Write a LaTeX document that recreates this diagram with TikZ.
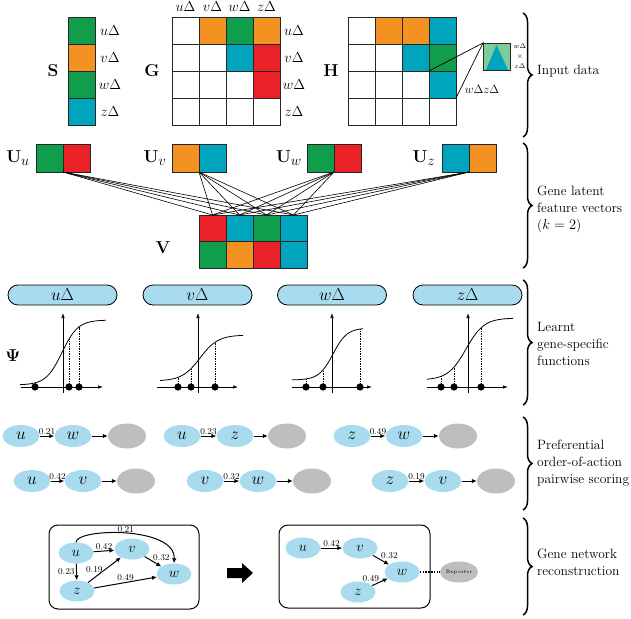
\documentclass[tikz,border=0pt]{standalone}
\usetikzlibrary{shapes.geometric,decorations.pathreplacing,arrows.meta,calc}
\definecolor{mgreen}{RGB}{16,157,76}
\definecolor{morange}{RGB}{243,146,32}
\definecolor{mcyan}{RGB}{0,164,189}
\definecolor{mred}{RGB}{234,33,39}
\definecolor{lblue}{RGB}{168,219,238}
\definecolor{lgray}{RGB}{190,190,190}
\definecolor{lgreen}{RGB}{125,205,155}
\begin{document}
\begin{tikzpicture}[x=1pt,y=-1pt,
  cell/.style={draw=black!85, line width=0.8pt},
  mlab/.style={font=\fontsize{13.5}{16}\selectfont, inner sep=0},
  bigl/.style={font=\fontsize{19}{22}\selectfont, inner sep=0},
  pill/.style={draw, line width=0.8pt, fill=lblue, rounded corners=10pt, minimum width=109pt, minimum height=20pt, inner sep=0, font=\fontsize{19}{22}\selectfont},
  gn/.style={ellipse, fill=lblue, minimum width=37pt, minimum height=22pt, inner sep=0, font=\fontsize{16}{18}\selectfont},
  gns/.style={ellipse, fill=lblue, minimum width=35pt, minimum height=21pt, inner sep=0, font=\fontsize{15}{18}\selectfont},
  gg/.style={ellipse, fill=lgray, minimum width=38pt, minimum height=25pt, inner sep=0},
  arr/.style={-{Latex[length=5pt,width=4.5pt]}, line width=1pt},
  elab/.style={font=\fontsize{9}{10}\selectfont, inner sep=1.5pt},
  brc/.style={decorate, decoration={brace, amplitude=9pt}, line width=1.5pt},
  side/.style={font=\fontsize{13.5}{17}\selectfont, align=left, anchor=west, inner sep=0},
  axis/.style={line width=0.7pt, -{Latex[length=5pt,width=3.5pt]}},
  dsh/.style={line width=0.5pt, dash pattern=on 1.5pt off 1pt},
  wire/.style={line width=0.6pt},
  tiny/.style={font=\fontsize{7.5}{8}\selectfont, inner sep=0}
]
\useasboundingbox (0,0) rectangle (631,618);

% ---------- Input data ----------
% S
\foreach \c [count=\i from 0] in {mgreen,morange,mgreen,mcyan}
  \filldraw[cell, fill=\c] (68,{17+27*\i}) rectangle ++(27,27);
\foreach \t [count=\i from 0] in {u,v,w,z}
  \node[mlab] (sl\i) at (110,{30.5+27*\i}) {$\t\Delta$};
\node[bigl] (Slab) at (53,71) {$\mathbf{S}$};

% G
\foreach \row [count=\r from 0] in {{white,morange,mgreen,morange},{white,white,mcyan,mred},{white,white,white,mred},{white,white,white,white}}
  \foreach \c [count=\k from 0] in \row
    \filldraw[cell, fill=\c] ({172+27*\k},{17+27*\r}) rectangle ++(27,27);
\foreach \t [count=\i from 0] in {u,v,w,z}{
  \node[mlab] (gr\i) at (294,{30.5+27*\i}) {$\t\Delta$};
  \node[mlab] (gc\i) at ({185.5+27*\i},7) {$\t\Delta$};
}
\node[bigl] (Glab) at (152,71) {$\mathbf{G}$};

% H
\foreach \row [count=\r from 0] in {{white,morange,morange,mcyan},{white,white,mcyan,mgreen},{white,white,white,mcyan},{white,white,white,white}}
  \foreach \c [count=\k from 0] in \row
    \filldraw[cell, fill=\c] ({348+27*\k},{17+27*\r}) rectangle ++(27,27);
\node[bigl] (Hlab) at (331,71) {$\mathbf{H}$};
% inset
\fill[lgreen] (483,43) rectangle (510,70);
\fill[mcyan] (486,70) -- (496.5,45) -- (508,70) -- cycle;
\draw[line width=0.7pt, draw=black!85] (483,43) rectangle (510,70);
\coordinate (ins) at (483,43);
\coordinate (hc1) at (429,71);
\coordinate (hc2) at (456,98);
\draw[line width=0.7pt] (hc1) -- (ins) -- (hc2);
\node[font=\fontsize{12.5}{14}\selectfont, inner sep=0] (hwz) at (482,89) {$w\Delta z\Delta$};
\node[tiny] (iw) at (520,46.5) {$w\Delta$};
\node[tiny] (ix) at (520,56.5) {$\times$};
\node[tiny] (iz) at (520,66) {$z\Delta$};

% ---------- latent vectors ----------
\foreach \x/\ca/\cb/\n in {36/mgreen/mred/uu, 172/morange/mcyan/uv, 307/mgreen/mred/uw, 442/mcyan/morange/uz}{
  \filldraw[cell, fill=\ca] (\x,144) rectangle ++(27,28);
  \filldraw[cell, fill=\cb] (\x+27,144) rectangle ++(27,28);
  \coordinate (\n) at (\x+27,172);
}
\node[bigl] (Uul) at (18,158) {$\mathbf{U}_u$};
\node[bigl] (Uvl) at (155,158) {$\mathbf{U}_v$};
\node[bigl] (Uwl) at (289,158) {$\mathbf{U}_w$};
\node[bigl] (Uzl) at (424,158) {$\mathbf{U}_z$};

% V
\foreach \row [count=\r from 0] in {{mred,mcyan,mgreen,mcyan},{mgreen,morange,mred,mcyan}}
  \foreach \c [count=\k from 0] in \row
    \filldraw[cell, fill=\c] ({199+27*\k},{215+26.5*\r}) rectangle ++(27,26.5);
\foreach \k in {0,1,2,3}
  \coordinate (vt\k) at ({212.5+27*\k},215);
\node[bigl] (Vlab) at (163,248) {$\mathbf{V}$};
\foreach \n in {uu,uv,uw,uz}
  \foreach \k in {0,1,2,3}
    \draw[wire] (\n) -- (vt\k);

% ---------- gene-specific functions ----------
\node[pill] (pu) at (62.5,295) {$u\Delta$};
\node[pill] (pv) at (197.5,295) {$v\Delta$};
\node[pill] (pw) at (332,295) {$w\Delta$};
\node[pill] (pz) at (467.5,295) {$z\Delta$};
\node[font=\fontsize{19}{22}\selectfont, inner sep=0] (Psi) at (13,356) {$\mathbf{\Psi}$};

\foreach \ax/\xl/\xr/\cl/\cr/\lo/\amp/\cc/\ss/\da/\db/\dc in {
   63/21/103/20/106/385/65/62/8/35/69/79,
   198/157/238/160/243/381/46/200/9/178/191/215,
   332/292/372/292/363/380/52/333/7/306/323/360,
   468/427/508/427/513/380/62/466/9/441/454/481}{
  \draw[axis] (\xl,387) -- (\xr,387);
  \draw[axis] (\ax,393) -- (\ax,313);
  \draw[line width=0.8pt] plot[domain=\cl:\cr, samples=60, smooth] (\x, {\lo-\amp/(1+exp(-(\x-\cc)/\ss))});
  \foreach \d in {\da,\db,\dc}{
    \draw[dsh] (\d,387) -- (\d,{\lo-\amp/(1+exp(-(\d-\cc)/\ss))});
    \fill (\d,387) circle (3.6);
  }
}

% ---------- pairwise scoring ----------
\node[gn] (a1) at (21,436) {$u$};
\node[gn] (a2) at (73,436) {$w$};
\node[gg] (a3) at (127,436) {};
\node[gn] (b1) at (182,436) {$u$};
\node[gn] (b2) at (235,436) {$z$};
\node[gg] (b3) at (287,436) {};
\node[gn] (c1) at (352,436) {$z$};
\node[gn] (c2) at (404,436) {$w$};
\node[gg] (c3) at (458,436) {};
\node[gn] (d1) at (32,481) {$u$};
\node[gn] (d2) at (83,481) {$v$};
\node[gg] (d3) at (136,481) {};
\node[gn] (e1) at (205,481) {$v$};
\node[gn] (e2) at (258,481) {$w$};
\node[gg] (e3) at (312,481) {};
\node[gn] (f1) at (390,481) {$z$};
\node[gn] (f2) at (443,481) {$v$};
\node[gg] (f3) at (496,481) {};
\foreach \p/\l in {a/0.21,b/0.23,c/0.49,d/0.42,e/0.32,f/0.19}{
  \draw[arr] (\p1) -- node[elab, above]{$\l$} (\p2);
  \draw[arr] (\p2) -- (\p3);
}

% ---------- network reconstruction ----------
\draw[line width=1pt, rounded corners=9pt] (49,525) rectangle (199,609);
\node[gns] (lu) at (76,553) {$u$};
\node[gns] (lv) at (132,549) {$v$};
\node[gns] (lw) at (174,574) {$w$};
\node[gns] (lz) at (77,591) {$z$};
\draw[arr] (lu) -- node[elab, above]{$0.42$} (lv);
\draw[arr] (lu) -- node[elab, left]{$0.23$} (lz);
\draw[arr] (lu.north) .. controls (76,528) and (176,526) .. node[elab, pos=0.5, above, inner sep=0.5pt]{$0.21$} (lw.north);
\draw[arr] (lz) -- node[elab, anchor=east, pos=0.5]{$0.19$} (lv);
\draw[arr] (lz) -- node[elab, above]{$0.49$} (lw);
\draw[arr] (lv) -- node[elab, anchor=south west, pos=0.45, inner sep=0.5pt]{$0.32$} (lw);

\fill (227,568) -- (242,568) -- (242,563) -- (253,573) -- (242,583) -- (242,578) -- (227,578) -- cycle;

\draw[line width=1pt, rounded corners=9pt] (279,525) rectangle (430,608);
\node[gns] (ru) at (303,548) {$u$};
\node[gns] (rv) at (360,548) {$v$};
\node[gns] (rw) at (402,572) {$w$};
\node[gns] (rz) at (358,592) {$z$};
\node[ellipse, fill=lgray, minimum width=38pt, minimum height=21pt, inner sep=0, font=\fontsize{5}{6}\selectfont] (rep) at (459,572) {Reporter};
\draw[arr] (ru) -- node[elab, above]{$0.42$} (rv);
\draw[arr] (rv) -- node[elab, anchor=south west, pos=0.45, inner sep=0.5pt]{$0.32$} (rw);
\draw[arr] (rz) -- node[elab, anchor=south east, pos=0.5, inner sep=0.5pt]{$0.49$} (rw);
\draw[line width=1.6pt, dash pattern=on 1.6pt off 1.2pt] (rw) -- (rep);

% ---------- braces ----------
\draw[brc] (523,13) -- (523,137);
\node[side] (t1) at (537,71) {Input data};
\draw[brc] (523,143) -- (523,268);
\node[side] (t2) at (537,209) {Gene latent\\feature vectors\\($k=2$)};
\draw[brc] (523,280) -- (523,405);
\node[side] (t3) at (537,344) {Learnt\\gene-specific\\functions};
\draw[brc] (523,417) -- (523,510);
\node[side] (t4) at (537,463) {Preferential\\order-of-action\\pairwise scoring};
\draw[brc] (523,518) -- (523,615);
\node[side] (t5) at (537,562) {Gene network\\reconstruction};
\end{tikzpicture}
\end{document}
